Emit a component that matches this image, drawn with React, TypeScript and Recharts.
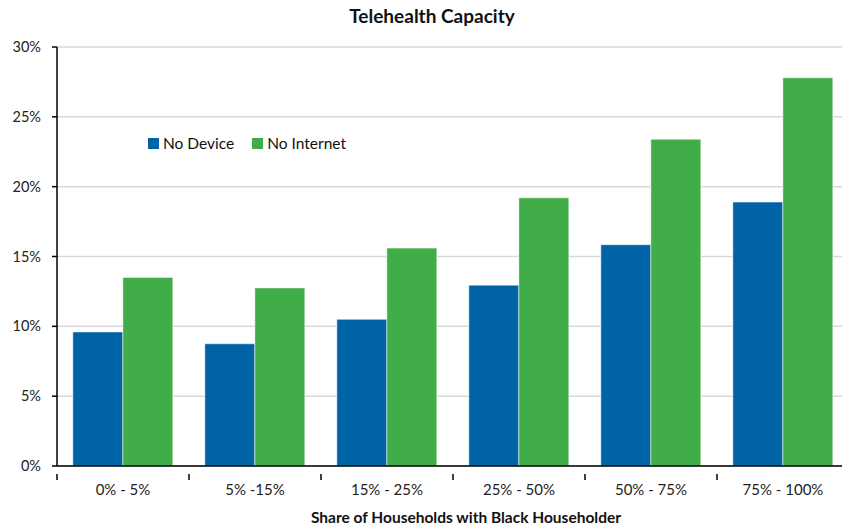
import { BarChart, Bar, XAxis, YAxis, CartesianGrid } from "recharts";

const categories = ["0% - 5%", "5% -15%", "15% - 25%", "25% - 50%", "50% - 75%", "75% - 100%"];
const noDevice = [9.6, 8.75, 10.5, 12.95, 15.85, 18.9];
const noInternet = [13.5, 12.75, 15.6, 19.2, 23.4, 27.8];
const yTicks = [0, 5, 10, 15, 20, 25, 30];

const data = categories.map((name, i) => ({
  name,
  noDevice: noDevice[i],
  noInternet: noInternet[i],
}));

const BLUE = "#0063A6";
const GREEN = "#41AD49";
const FONT = "Lato, 'Open Sans', sans-serif";

const CHART_W = 852;
const MARGIN = { top: 47, right: 3, left: 0, bottom: 0 };
const Y_W = 57;
const STEP = (CHART_W - MARGIN.left - MARGIN.right - Y_W) / categories.length;

const XTick = (props: any) => {
  const { x, y, payload, index } = props;
  const left = x - STEP / 2;
  return (
    <g>
      <line x1={left} x2={left} y1={y} y2={y + 6} stroke="#000" strokeWidth={1.5} />
      {index === categories.length - 1 && (
        <line x1={x + STEP / 2} x2={x + STEP / 2} y1={y} y2={y + 6} stroke="#000" strokeWidth={1.5} />
      )}
      <text x={x} y={y + 21} textAnchor="middle" fill="#222" fontSize={15} fontFamily={FONT}>
        {payload.value}
      </text>
    </g>
  );
};

const LegendBox = () => (
  <div
    style={{
      position: "absolute",
      left: 148,
      top: 134,
      display: "flex",
      alignItems: "center",
      fontFamily: FONT,
      fontSize: 15.5,
      color: "#111",
    }}
  >
    <span style={{ width: 11, height: 11, background: BLUE, display: "inline-block", marginRight: 4 }} />
    <span style={{ marginRight: 18 }}>No Device</span>
    <span style={{ width: 11, height: 11, background: GREEN, display: "inline-block", marginRight: 4 }} />
    <span>No Internet</span>
  </div>
);

export default function App() {
  return (
    <div style={{ position: "absolute", left: 0, top: 0, width: 842, height: 527, overflow: "hidden", background: "#fff" }}>
      <div
        style={{
          position: "absolute",
          top: 4,
          left: 0,
          width: 864,
          textAlign: "center",
          fontFamily: FONT,
          fontWeight: 700,
          fontSize: 19,
          color: "#111",
        }}
      >
        Telehealth Capacity
      </div>
      <BarChart width={CHART_W} height={527} data={data} margin={MARGIN} barCategoryGap="12%" barGap={0}>
        <CartesianGrid vertical={false} stroke="#d9d9d9" strokeWidth={1.5} />
        <XAxis
          dataKey="name"
          height={61}
          axisLine={{ stroke: "#000", strokeWidth: 1.5 }}
          tickLine={false}
          tick={<XTick />}
          interval={0}
        />
        <YAxis
          width={Y_W}
          domain={[0, 30]}
          ticks={yTicks}
          tickFormatter={(v) => `${v}%`}
          axisLine={{ stroke: "#000", strokeWidth: 1.5 }}
          tickLine={{ stroke: "#000", strokeWidth: 1.5 }}
          tickSize={5}
          tickMargin={11}
          tick={{ fill: "#222", fontSize: 14.5, fontFamily: FONT }}
        />
        <Bar dataKey="noDevice" name="No Device" fill={BLUE} stroke="#ffffff" strokeOpacity={0.5} isAnimationActive={false} />
        <Bar dataKey="noInternet" name="No Internet" fill={GREEN} stroke="#ffffff" strokeOpacity={0.5} isAnimationActive={false} />
      </BarChart>
      <LegendBox />
      <div
        style={{
          position: "absolute",
          top: 508,
          left: 0,
          width: 932,
          textAlign: "center",
          fontFamily: FONT,
          fontWeight: 700,
          fontSize: 15.5,
          color: "#111",
        }}
      >
        Share of Households with Black Householder
      </div>
    </div>
  );
}
